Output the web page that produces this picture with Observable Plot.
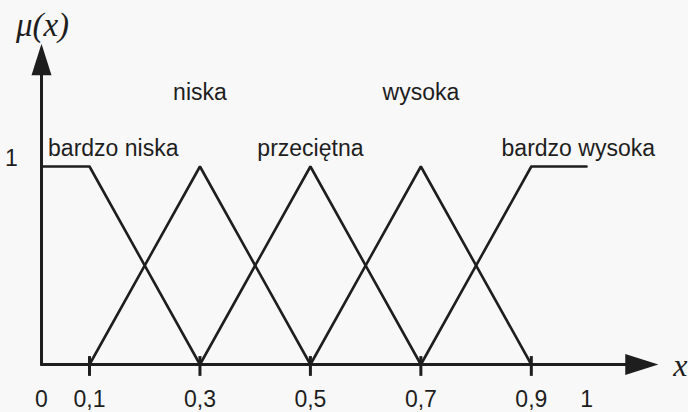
<!DOCTYPE html>
<html>
<head>
<meta charset="utf-8">
<script src="https://cdn.jsdelivr.net/npm/d3@7"></script>
<script src="https://cdn.jsdelivr.net/npm/@observablehq/plot@0.6"></script>
<style>
  html, body { margin: 0; padding: 0; background: #f8f8f8; }
  #chart svg { display: block; }
</style>
</head>
<body>
<div id="chart"></div>
<script>
// Fuzzy sets (linguistic terms) and their membership breakpoints
const setNames = ["bardzo niska", "niska", "przeciętna", "wysoka", "bardzo wysoka"];
const setX = [[0, 0.1, 0.3], [0.1, 0.3, 0.5], [0.3, 0.5, 0.7], [0.5, 0.7, 0.9], [0.7, 0.9, 1]];
const setMu = [[1, 1, 0], [0, 1, 0], [0, 1, 0], [0, 1, 0], [0, 1, 1]];

// Where each term's name sits (x, membership level)
const labelX = [0.143, 0.3, 0.5, 0.7, 0.985];
const labelMu = [1.09, 1.375, 1.09, 1.375, 1.09];

// Axis ticks and their labels
const tickValues = [0.1, 0.3, 0.5, 0.7, 0.9];
const tickLabelValues = [0, 0.1, 0.3, 0.5, 0.7, 0.9, 1];
const tickLabels = ["0", "0,1", "0,3", "0,5", "0,7", "0,9", "1"];

// Axis extents (arrow tips)
const xAxisEnd = 1.13;
const yAxisEnd = 1.62;

const rows = setNames.flatMap((name, i) =>
  setX[i].map((x, j) => ({ name, x, mu: setMu[i][j] }))
);

// Elongated filled arrowhead; tip at the anchor point, body below it
const arrowHead = {
  draw(context, size) {
    const r = Math.sqrt(size / Math.PI);
    context.moveTo(0, 0);
    context.lineTo(r, 3.15 * r);
    context.lineTo(-r, 3.15 * r);
    context.closePath();
  }
};

const ink = "#1e1e1e";
const sans = "'Liberation Sans', Arial, sans-serif";
const serif = "'Liberation Serif', 'Times New Roman', serif";

const chart = Plot.plot({
  width: 688,
  height: 412,
  margin: 0,
  style: { background: "#f8f8f8", color: ink, fontFamily: sans },
  x: { type: "linear", domain: [0, 0.1, 1.2], range: [41, 89, 696.5], axis: null },
  y: { domain: [0, 1], range: [364, 166], axis: null },
  marks: [
    // axes
    Plot.line([[0, 0], [xAxisEnd - 0.02, 0]], { stroke: ink, strokeWidth: 3 }),
    Plot.line([[0, 0], [0, yAxisEnd - 0.05]], { stroke: ink, strokeWidth: 3 }),
    Plot.dot([[xAxisEnd, 0]], { symbol: arrowHead, r: 10.5, rotate: 90, fill: ink, stroke: "none" }),
    Plot.dot([[0, yAxisEnd]], { symbol: arrowHead, r: 10, fill: ink, stroke: "none" }),
    // ticks on the x axis
    Plot.ruleX(tickValues, { y1: -0.06, y2: 0.04, stroke: ink, strokeWidth: 3 }),
    // membership functions
    Plot.line(rows, { x: "x", y: "mu", z: "name", stroke: ink, strokeWidth: 2.6, strokeLinejoin: "miter" }),
    // term names
    Plot.text(setNames, { x: (d, i) => labelX[i], y: (d, i) => labelMu[i], text: d => d, fontSize: 23, fill: ink }),
    // tick labels
    Plot.text(tickLabels, { x: (d, i) => tickLabelValues[i], y: 0, dy: 35, text: d => d, fontSize: 23, fill: ink }),
    Plot.text(["1"], { x: 0, y: 1, dx: -30, dy: -8, text: d => d, fontSize: 23, fill: ink }),
    // axis titles
    Plot.text(["μ(x)"], { x: 0, y: 1.712, dx: 1, text: d => d, fontSize: 33, fontFamily: serif, fontStyle: "italic", fill: ink }),
    Plot.text(["x"], { x: xAxisEnd, y: 0, dx: 22, dy: 1, text: d => d, fontSize: 32, fontFamily: serif, fontStyle: "italic", fill: ink })
  ]
});

document.getElementById("chart").appendChild(chart);
</script>
</body>
</html>
